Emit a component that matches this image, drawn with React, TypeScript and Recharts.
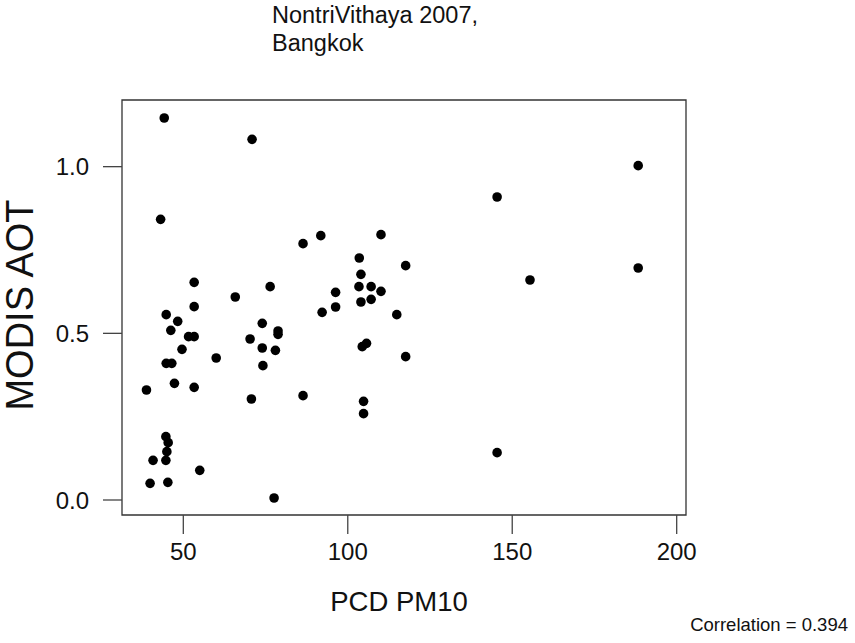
import {
  ScatterChart,
  Scatter,
  XAxis,
  YAxis,
  ReferenceArea,
} from 'recharts'

// PCD PM10 readings (x) and MODIS AOT (y)
const pm10 = [
  44.2, 70.9, 43.1, 86.4, 91.8, 110.1, 103.5, 117.6, 104.0, 53.3,
  76.4, 103.4, 107.1, 110.1, 96.3, 65.8, 104.0, 107.1, 53.3, 96.3,
  92.2, 44.8, 48.3, 46.2, 51.6, 53.3, 49.6, 44.8, 46.5, 47.3,
  53.3, 38.8, 60.0, 70.3, 74.0, 78.8, 78.8, 74.0, 78.0, 74.2,
  70.7, 86.4, 114.9, 104.4, 105.7, 117.6, 104.8, 104.8, 44.7, 45.4,
  45.0, 40.8, 44.7, 55.0, 39.9, 45.3, 77.6, 188.3, 145.4, 155.4,
  188.3, 145.4,
]
const aot = [
  1.146, 1.082, 0.842, 0.769, 0.793, 0.796, 0.726, 0.703, 0.677, 0.653,
  0.64, 0.64, 0.64, 0.626, 0.623, 0.609, 0.594, 0.602, 0.58, 0.579,
  0.563, 0.556, 0.536, 0.509, 0.49, 0.49, 0.452, 0.41, 0.41, 0.35,
  0.338, 0.33, 0.426, 0.483, 0.53, 0.507, 0.497, 0.456, 0.449, 0.403,
  0.303, 0.313, 0.556, 0.46, 0.47, 0.43, 0.296, 0.259, 0.19, 0.172,
  0.145, 0.119, 0.119, 0.089, 0.05, 0.053, 0.006, 1.003, 0.909, 0.66,
  0.696, 0.142,
]

const xTicks = [50, 100, 150, 200]
const yTicks = [0, 0.5, 1.0]

const xDomain: [number, number] = [31.36, 202.83]
const yDomain: [number, number] = [-0.045, 1.2]

const points = pm10.map((x, i) => ({ x, y: aot[i] }))

const font = '"Liberation Sans", Arial, sans-serif'

function Dot(props: any) {
  const { cx, cy } = props
  if (cx == null || cy == null) return null
  return <circle cx={cx} cy={cy} r={4.8} fill="#000" />
}

export default function App() {
  return (
    <div style={{ position: 'absolute', left: 0, top: 0, width: 855, height: 643, background: '#fff', fontFamily: font }}>
      <ScatterChart
        width={855}
        height={643}
        margin={{ top: 100, right: 169, bottom: 0, left: 0 }}
      >
        <XAxis
          type="number"
          dataKey="x"
          domain={xDomain}
          ticks={xTicks}
          allowDataOverflow
          axisLine={false}
          tickLine={{ stroke: '#444', strokeWidth: 1.3 }}
          tickSize={19}
          tickMargin={9}
          height={128}
          tick={{ fontSize: 24, fill: '#111', fontFamily: font }}
        />
        <YAxis
          type="number"
          dataKey="y"
          domain={yDomain}
          ticks={yTicks}
          allowDataOverflow
          axisLine={false}
          tickLine={{ stroke: '#444', strokeWidth: 1.3 }}
          tickSize={19}
          tickMargin={14}
          width={122}
          tickFormatter={(v: number) => v.toFixed(1)}
          tick={{ fontSize: 24, fill: '#111', fontFamily: font }}
        />
        <ReferenceArea
          x1={xDomain[0]}
          x2={xDomain[1]}
          y1={yDomain[0]}
          y2={yDomain[1]}
          fill="none"
          stroke="#333"
          strokeWidth={1.3}
        />
        <Scatter data={points} shape={Dot} isAnimationActive={false} />
      </ScatterChart>
      <svg
        width={855}
        height={643}
        style={{ position: 'absolute', left: 0, top: 0, pointerEvents: 'none' }}
      >
        <g fontFamily={font} fill="#111">
          <text x={272} y={23} fontSize={23.5}>NontriVithaya 2007,</text>
          <text x={272} y={51} fontSize={23.5}>Bangkok</text>
          <text x={399} y={611} fontSize={27.5} textAnchor="middle">PCD PM10</text>
          <text x={848} y={631} fontSize={18.5} textAnchor="end">Correlation = 0.394</text>
          <text
            x={33}
            y={305}
            fontSize={38}
            textAnchor="middle"
            transform="rotate(-90, 33, 305)"
          >
            MODIS AOT
          </text>
        </g>
      </svg>
    </div>
  )
}
